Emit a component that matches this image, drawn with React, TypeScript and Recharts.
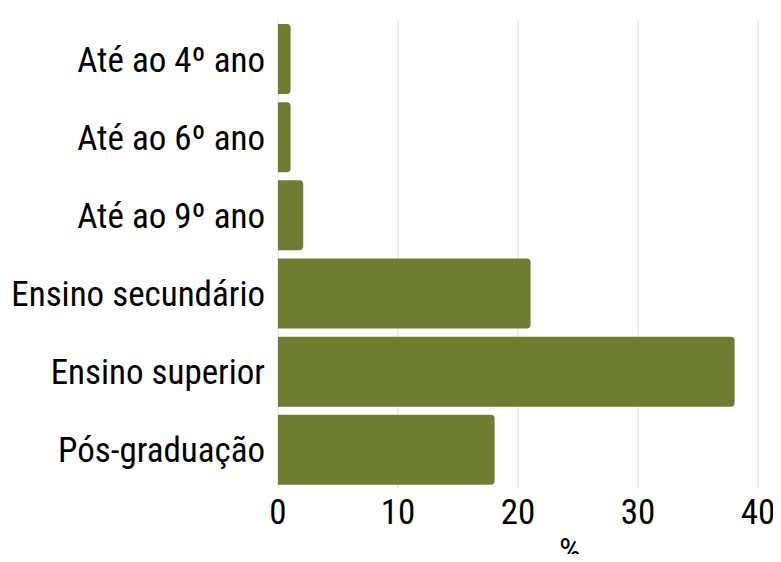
import React from "react";
import { BarChart, Bar, XAxis, YAxis, CartesianGrid } from "recharts";

const categories = [
  "Até ao 4º ano",
  "Até ao 6º ano",
  "Até ao 9º ano",
  "Ensino secundário",
  "Ensino superior",
  "Pós-graduação",
];
const values = [1.05, 1.05, 2.1, 21.05, 38.05, 18.05];
const xTicks = [0, 10, 20, 30, 40];

const data = categories.map((name, i) => ({ name, value: values[i] }));

const FONT = "'Liberation Sans Narrow', 'Arial Narrow', 'Roboto Condensed', sans-serif";
const tickStyle = { fontFamily: FONT, fontSize: 35, fill: "#000" };

export default function App() {
  return (
    <div style={{ margin: "-8px", width: 781, height: 562, overflow: "hidden", background: "#fff" }}>
      <BarChart
        width={781}
        height={562}
        data={data}
        layout="vertical"
        margin={{ top: 20, right: 23, bottom: 0, left: 0 }}
        barCategoryGap={4}
      >
        <CartesianGrid horizontal={false} stroke="#dddddd" />
        <XAxis
          type="number"
          domain={[0, 40]}
          ticks={xTicks}
          height={73}
          axisLine={false}
          tickLine={false}
          tickSize={0}
          tickMargin={10}
          tick={tickStyle}
          label={{
            value: "%",
            position: "insideBottom",
            offset: -1,
            dx: 52,
            fontSize: 35,
            fontFamily: FONT,
            fill: "#000",
          }}
        />
        <YAxis
          type="category"
          dataKey="name"
          width={278}
          axisLine={false}
          tickLine={false}
          tickSize={0}
          tickMargin={13}
          tick={tickStyle}
          interval={0}
        />
        <Bar dataKey="value" fill="#6e7d32" radius={[0, 4, 4, 0]} isAnimationActive={false} />
      </BarChart>
    </div>
  );
}
